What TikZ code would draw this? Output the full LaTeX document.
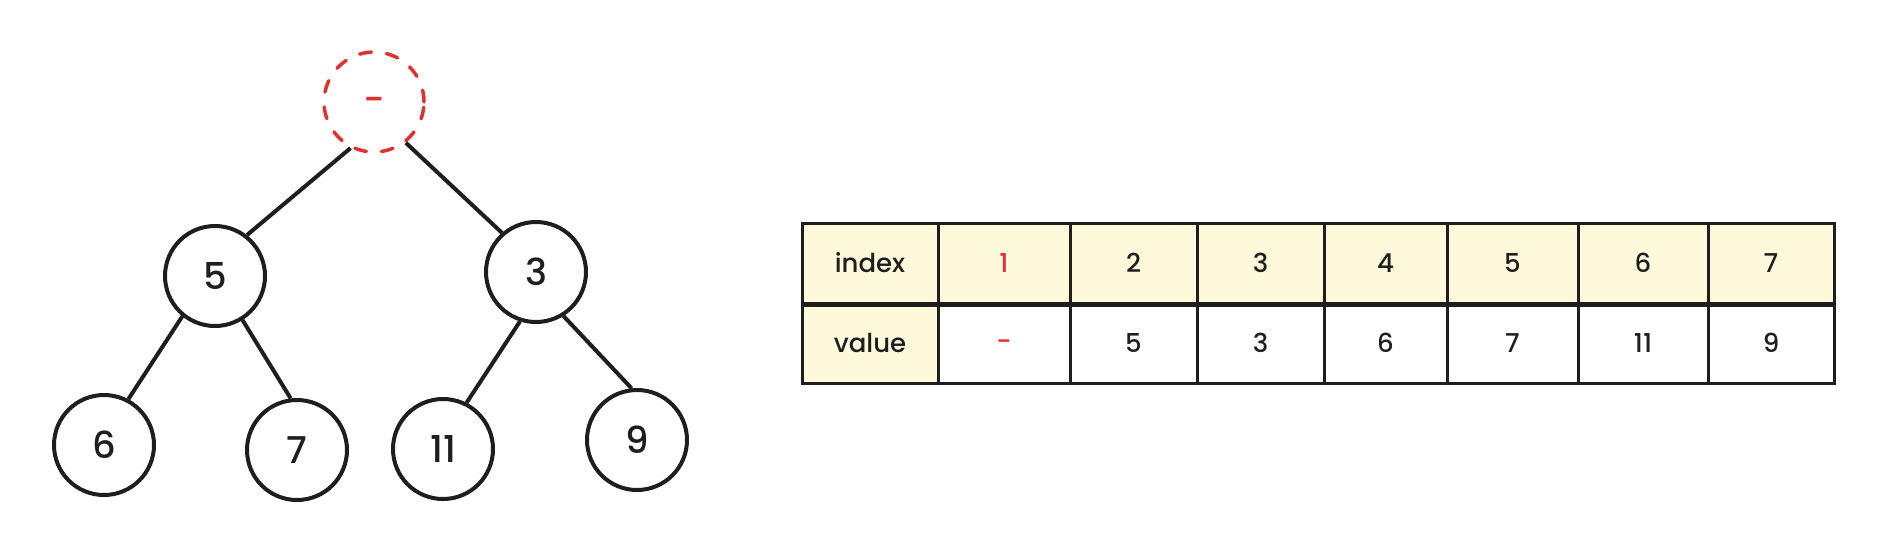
\documentclass[tikz,border=0pt]{standalone}
\usepackage{fontspec}
\setmainfont{Poppins}[UprightFont=* Medium]
\definecolor{ink}{HTML}{1E1E1E}
\definecolor{hred}{HTML}{E03131}
\definecolor{hyellow}{HTML}{FFF9DB}
\begin{document}
\begin{tikzpicture}[x=1pt,y=-1pt,
  treenode/.style={circle,draw=ink,line width=4pt,minimum size=100pt,inner sep=0pt,
    font=\fontsize{37}{37}\selectfont,text=ink},
  rootnode/.style={circle,draw=hred,line width=3.5pt,dash pattern=on 12pt off 15pt,
    line cap=round,minimum size=100pt,inner sep=0pt,font=\fontsize{37}{37}\selectfont,text=hred,
    text height=20pt,text depth=0pt},
  edge/.style={draw=ink,line width=4pt},
  cell/.style={rectangle,draw=ink,line width=3pt,minimum height=80pt,inner sep=0pt,
    font=\fontsize{26}{26}\selectfont,text=ink},
  ycell/.style={cell,fill=hyellow},
]
\useasboundingbox (0,0) rectangle (1882,558);

% tree
\node[rootnode] (root) at (374,102) {-};
\node[treenode] (n5) at (215,276) {5};
\node[treenode] (n3) at (536,272) {3};
\node[treenode] (n6) at (104,445) {6};
\node[treenode] (n7) at (297,450) {7};
\node[treenode] (n11) at (443,449) {11};
\node[treenode] (n9) at (637,440) {9};

\draw[edge] (root.243) -- (n5.52);
\draw[edge] (root.308) -- (n3.131);
\draw[edge] (n5.231) -- (n6.62);
\draw[edge] (n5.302) -- (n7.97);
\draw[edge] (n3.252) -- (n11.63);
\draw[edge] (n3.302) -- (n9.96);

% table: index row
\node[ycell,minimum width=136pt] (i0) at (870,263) {index};
\node[ycell,minimum width=132pt,text=hred] (i1) at (1004,263) {1};
\node[ycell,minimum width=127pt] (i2) at (1133.5,263) {2};
\node[ycell,minimum width=127pt] (i3) at (1260.5,263) {3};
\node[ycell,minimum width=123pt] (i4) at (1385.5,263) {4};
\node[ycell,minimum width=131pt] (i5) at (1512.5,263) {5};
\node[ycell,minimum width=130pt] (i6) at (1643,263) {6};
\node[ycell,minimum width=126pt] (i7) at (1771,263) {7};
% value row
\node[ycell,minimum width=136pt] (v0) at (870,343) {value};
\node[cell,minimum width=132pt,text=hred,text height=14pt,text depth=0pt] (v1) at (1004,343) {-};
\node[cell,minimum width=127pt] (v2) at (1133.5,343) {5};
\node[cell,minimum width=127pt] (v3) at (1260.5,343) {3};
\node[cell,minimum width=123pt] (v4) at (1385.5,343) {6};
\node[cell,minimum width=131pt] (v5) at (1512.5,343) {7};
\node[cell,minimum width=130pt] (v6) at (1643,343) {11};
\node[cell,minimum width=126pt] (v7) at (1771,343) {9};

\draw[ink,line width=4.5pt] (i0.south west) -- (i7.south east);
\end{tikzpicture}
\end{document}
